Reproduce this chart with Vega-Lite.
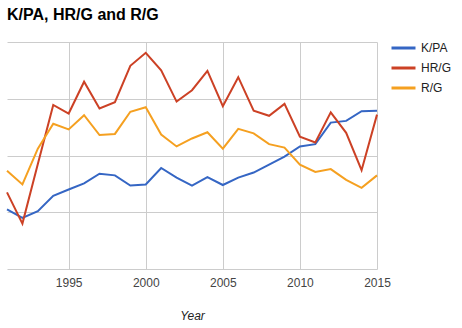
{
  "$schema": "https://vega.github.io/schema/vega-lite/v6.json",
  "autosize": {"type": "none"},
  "width": 370,
  "height": 227,
  "padding": {"left": 7, "top": 42, "right": 85, "bottom": 59},
  "background": "white",
  "title": {"text": "K/PA, HR/G and R/G", "anchor": "start", "frame": "group", "fontSize": 16, "fontWeight": "bold", "font": "Liberation Sans", "color": "#000000", "baseline": "alphabetic", "offset": 22, "dy": 23},
  "data": {"values": [
    {"year": 1991, "series": "K/PA", "value": 1.05}, {"year": 1992, "series": "K/PA", "value": 0.90}, {"year": 1993, "series": "K/PA", "value": 1.02}, {"year": 1994, "series": "K/PA", "value": 1.29}, {"year": 1995, "series": "K/PA", "value": 1.40}, {"year": 1996, "series": "K/PA", "value": 1.51}, {"year": 1997, "series": "K/PA", "value": 1.68}, {"year": 1998, "series": "K/PA", "value": 1.65}, {"year": 1999, "series": "K/PA", "value": 1.47}, {"year": 2000, "series": "K/PA", "value": 1.49}, {"year": 2001, "series": "K/PA", "value": 1.78}, {"year": 2002, "series": "K/PA", "value": 1.61}, {"year": 2003, "series": "K/PA", "value": 1.47}, {"year": 2004, "series": "K/PA", "value": 1.62}, {"year": 2005, "series": "K/PA", "value": 1.48}, {"year": 2006, "series": "K/PA", "value": 1.61}, {"year": 2007, "series": "K/PA", "value": 1.70}, {"year": 2008, "series": "K/PA", "value": 1.84}, {"year": 2009, "series": "K/PA", "value": 1.98}, {"year": 2010, "series": "K/PA", "value": 2.16}, {"year": 2011, "series": "K/PA", "value": 2.20}, {"year": 2012, "series": "K/PA", "value": 2.58}, {"year": 2013, "series": "K/PA", "value": 2.61}, {"year": 2014, "series": "K/PA", "value": 2.78}, {"year": 2015, "series": "K/PA", "value": 2.79},
    {"year": 1991, "series": "HR/G", "value": 1.35}, {"year": 1992, "series": "HR/G", "value": 0.80}, {"year": 1993, "series": "HR/G", "value": 1.85}, {"year": 1994, "series": "HR/G", "value": 2.89}, {"year": 1995, "series": "HR/G", "value": 2.74}, {"year": 1996, "series": "HR/G", "value": 3.30}, {"year": 1997, "series": "HR/G", "value": 2.83}, {"year": 1998, "series": "HR/G", "value": 2.94}, {"year": 1999, "series": "HR/G", "value": 3.58}, {"year": 2000, "series": "HR/G", "value": 3.81}, {"year": 2001, "series": "HR/G", "value": 3.50}, {"year": 2002, "series": "HR/G", "value": 2.95}, {"year": 2003, "series": "HR/G", "value": 3.15}, {"year": 2004, "series": "HR/G", "value": 3.49}, {"year": 2005, "series": "HR/G", "value": 2.87}, {"year": 2006, "series": "HR/G", "value": 3.38}, {"year": 2007, "series": "HR/G", "value": 2.79}, {"year": 2008, "series": "HR/G", "value": 2.70}, {"year": 2009, "series": "HR/G", "value": 2.91}, {"year": 2010, "series": "HR/G", "value": 2.33}, {"year": 2011, "series": "HR/G", "value": 2.23}, {"year": 2012, "series": "HR/G", "value": 2.76}, {"year": 2013, "series": "HR/G", "value": 2.40}, {"year": 2014, "series": "HR/G", "value": 1.74}, {"year": 2015, "series": "HR/G", "value": 2.72},
    {"year": 1991, "series": "R/G", "value": 1.73}, {"year": 1992, "series": "R/G", "value": 1.49}, {"year": 1993, "series": "R/G", "value": 2.12}, {"year": 1994, "series": "R/G", "value": 2.56}, {"year": 1995, "series": "R/G", "value": 2.46}, {"year": 1996, "series": "R/G", "value": 2.71}, {"year": 1997, "series": "R/G", "value": 2.36}, {"year": 1998, "series": "R/G", "value": 2.38}, {"year": 1999, "series": "R/G", "value": 2.77}, {"year": 2000, "series": "R/G", "value": 2.85}, {"year": 2001, "series": "R/G", "value": 2.37}, {"year": 2002, "series": "R/G", "value": 2.16}, {"year": 2003, "series": "R/G", "value": 2.30}, {"year": 2004, "series": "R/G", "value": 2.41}, {"year": 2005, "series": "R/G", "value": 2.12}, {"year": 2006, "series": "R/G", "value": 2.47}, {"year": 2007, "series": "R/G", "value": 2.39}, {"year": 2008, "series": "R/G", "value": 2.20}, {"year": 2009, "series": "R/G", "value": 2.14}, {"year": 2010, "series": "R/G", "value": 1.84}, {"year": 2011, "series": "R/G", "value": 1.71}, {"year": 2012, "series": "R/G", "value": 1.76}, {"year": 2013, "series": "R/G", "value": 1.57}, {"year": 2014, "series": "R/G", "value": 1.43}, {"year": 2015, "series": "R/G", "value": 1.65}
  ]},
  "mark": {"type": "line", "strokeWidth": 2, "strokeJoin": "miter", "clip": false},
  "encoding": {
    "x": {
      "field": "year", "type": "quantitative",
      "scale": {"domain": [1991, 2015], "nice": false, "zero": false},
      "axis": {"values": [1995, 2000, 2005, 2010, 2015], "format": "d", "domain": false, "ticks": false, "grid": true, "gridColor": "#cccccc", "gridOpacity": 1, "labelFont": "Liberation Sans", "labelFontSize": 12, "labelColor": "#444444", "labelPadding": 8, "labelFlush": false, "labelOverlap": false, "title": "Year", "titleFont": "Liberation Sans", "titleFontSize": 12, "titleFontStyle": "italic", "titleFontWeight": "normal", "titleColor": "#222222", "titlePadding": 22}
    },
    "y": {
      "field": "value", "type": "quantitative",
      "scale": {"domain": [0, 4], "nice": false},
      "axis": {"values": [0, 1, 2, 3, 4], "labels": false, "ticks": false, "domain": false, "grid": true, "gridColor": "#cccccc", "gridOpacity": 1, "title": null}
    },
    "color": {
      "field": "series", "type": "nominal",
      "scale": {"domain": ["K/PA", "HR/G", "R/G"], "range": ["#3566c4", "#cc4125", "#f5a020"]},
      "legend": {"orient": "none", "legendX": 383, "legendY": -7.5, "title": null, "symbolType": "stroke", "symbolSize": 576, "symbolStrokeWidth": 3, "labelFont": "Liberation Sans", "labelFontSize": 12, "labelColor": "#222222", "labelOffset": 4, "rowPadding": -8, "padding": 0}
    }
  },
  "config": {"view": {"stroke": null}}
}
